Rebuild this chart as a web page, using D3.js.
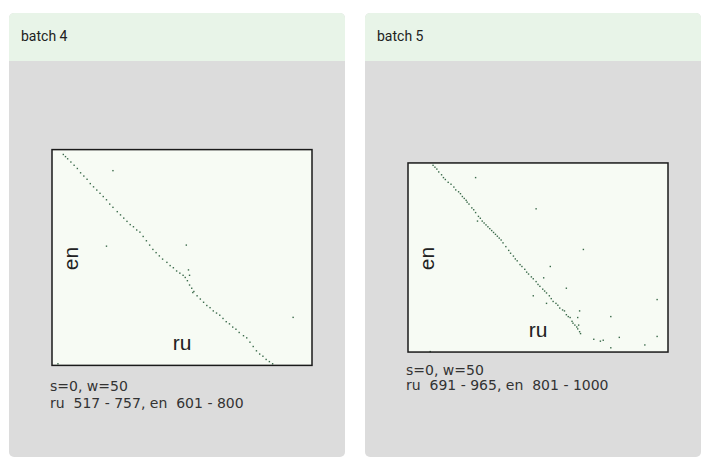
<!DOCTYPE html>
<html><head><meta charset="utf-8">
<script src="https://cdn.jsdelivr.net/npm/d3@7"></script>
<style>
html,body{margin:0;padding:0;background:#fff;}
svg{display:block;}
</style></head>
<body>
<svg id="chart" width="715" height="472"></svg>
<script>
// ---------- data ----------
const batchTitles = ["batch 4", "batch 5"];
const ruRanges = [[517, 757], [691, 965]];
const enRanges = [[601, 800], [801, 1000]];
const sValues = [0, 0];
const wValues = [50, 50];

// aligned sentence pairs [ru, en]
const batch4Aligned = [
  [527,605],[529,607],[531,609],[534,612],[537,615],[540,618],[543,622],[546,625],
  [549,628],[552,632],[555,635],[558,638],[561,641],[564,644],[567,647],[570,651],
  [573,654],[577,658],[580,661],[583,664],[586,667],[589,670],[592,672],[595,675],
  [598,677],[601,681],[604,685],[607,689],[610,693],[613,696],[616,699],[619,702],
  [623,705],[626,708],[629,710],[632,713],[635,715],[638,717],[640,719],[642,722],
  [644,726],[646,729],[648,732],[651,736],[654,739],[657,742],[660,745],[663,747],
  [666,750],[669,752],[672,754],[675,757],[678,760],[681,762],[684,765],[687,767],
  [690,770],[694,773],[697,775],[700,779],[703,783],[706,787],[709,790],[712,792],
  [715,795],[718,797],[721,799]
];
const batch4Stray = [
  [573,620],[567,690],[641,689],[643,712],[644,717],[647,733],[740,756],[522,799]
];
const batch5Aligned = [
  [717,803],[719,805],[721,807],[723,810],[726,813],[728,816],[730,818],[733,821],
  [736,823],[739,826],[741,829],[744,831],[746,833],[748,836],[750,838],[752,840],
  [753,842],[755,844],[758,848],[760,850],[762,853],[765,857],[767,859],
  [769,862],[771,864],[773,866],[775,868],
  [777,870],[779,872],[781,874],[783,876],
  [785,878],[787,880],[789,882],[791,885],
  [794,889],[797,893],[799,896],[802,899],[804,902],[806,904],[809,908],[811,910],
  [814,913],[816,916],[818,918],[821,921],[823,923],[826,926],[828,929],[830,931],
  [833,934],[835,936],[837,938],[840,941],[842,944],[844,947],[847,949],[849,951],
  [851,954],[854,956],[856,957],[858,961],[860,963],[862,964],[864,968],[865,970],
  [867,972],[869,974],[870,976],[872,979],[873,981]
];
const batch5Stray = [
  [762,816],[764,862],[826,849],[876,892],[841,910],[834,922],[858,933],[823,941],
  [837,949],[872,957],[870,964],[871,972],[905,963],[954,945],[887,987],[894,989],
  [897,988],[914,985],[905,996],[941,993],[954,984],[714,1000]
];
const batchPoints = [batch4Aligned.concat(batch4Stray), batch5Aligned.concat(batch5Stray)];

// ---------- layout ----------
const svg = d3.select("#chart");
const cardX = [9, 365], cardY = 13, cardW = 336, cardH = 444, headerH = 48;
const plotW = 260, plotInset = 43, blockCenter = 280, textBlock = 45;
const infoOffsets = [[25.5, 42.5], [22.5, 38]];
const NB = "\u00A0";

batchTitles.forEach((title, i) => {
  const g = svg.append("g").attr("transform", `translate(${cardX[i]},${cardY})`);
  const clipId = "cardclip" + i;
  g.append("clipPath").attr("id", clipId)
    .append("rect").attr("width", cardW).attr("height", cardH).attr("rx", 5).attr("ry", 5);
  const inner = g.append("g").attr("clip-path", `url(#${clipId})`);
  inner.append("rect").attr("width", cardW).attr("height", cardH).attr("fill", "#dcdcdc");
  inner.append("rect").attr("width", cardW).attr("height", headerH).attr("fill", "#e8f4e8");
  g.append("text").attr("x", 12).attr("y", 28)
    .attr("font-family", "Roboto, sans-serif").attr("font-size", 14)
    .attr("fill", "#212121").text(title);

  const [r0, r1] = ruRanges[i], [e0, e1] = enRanges[i];
  const plotH = plotW * (e1 - e0 + 1) / (r1 - r0 + 1);
  const px = plotInset;
  const py = blockCenter - cardY - (plotH + textBlock) / 2;

  const x = d3.scaleLinear().domain([r0 - 0.5, r1 + 0.5]).range([0, plotW]);
  const y = d3.scaleLinear().domain([e0 - 0.5, e1 + 0.5]).range([0, plotH]);

  const pg = g.append("g").attr("transform", `translate(${px},${py})`);
  pg.append("rect").attr("width", plotW).attr("height", plotH).attr("fill", "#f7fbf4");

  pg.append("text").attr("x", plotW / 2).attr("y", plotH - 15)
    .attr("text-anchor", "middle")
    .attr("font-family", "'Liberation Sans', Arial, sans-serif").attr("font-size", 21)
    .attr("fill", "#222").text("ru");
  pg.append("text")
    .attr("transform", `translate(26,${plotH / 2 + 1}) rotate(-90)`)
    .attr("text-anchor", "middle")
    .attr("font-family", "'Liberation Sans', Arial, sans-serif").attr("font-size", 21)
    .attr("fill", "#222").text("en");

  pg.selectAll("rect.dot").data(batchPoints[i]).join("rect")
    .attr("class", "dot")
    .attr("x", d => x(d[0]) - 0.7).attr("y", d => y(d[1]) - 0.7)
    .attr("width", 1.4).attr("height", 1.4)
    .attr("fill", "#3a6a4a");

  pg.append("rect").attr("width", plotW).attr("height", plotH)
    .attr("fill", "none").attr("stroke", "#1a1a1a").attr("stroke-width", 1.5);

  const info = pg.append("g").attr("font-family", "'DejaVu Sans', sans-serif")
    .attr("font-size", 14).attr("fill", "#333");
  info.append("text").attr("x", -2).attr("y", plotH + infoOffsets[i][0])
    .text(`s=${sValues[i]}, w=${wValues[i]}`);
  info.append("text").attr("x", -2).attr("y", plotH + infoOffsets[i][1])
    .text(`ru${NB}${NB}${r0} - ${r1}, en${NB}${NB}${e0} - ${e1}`);
});
</script>
</body></html>
